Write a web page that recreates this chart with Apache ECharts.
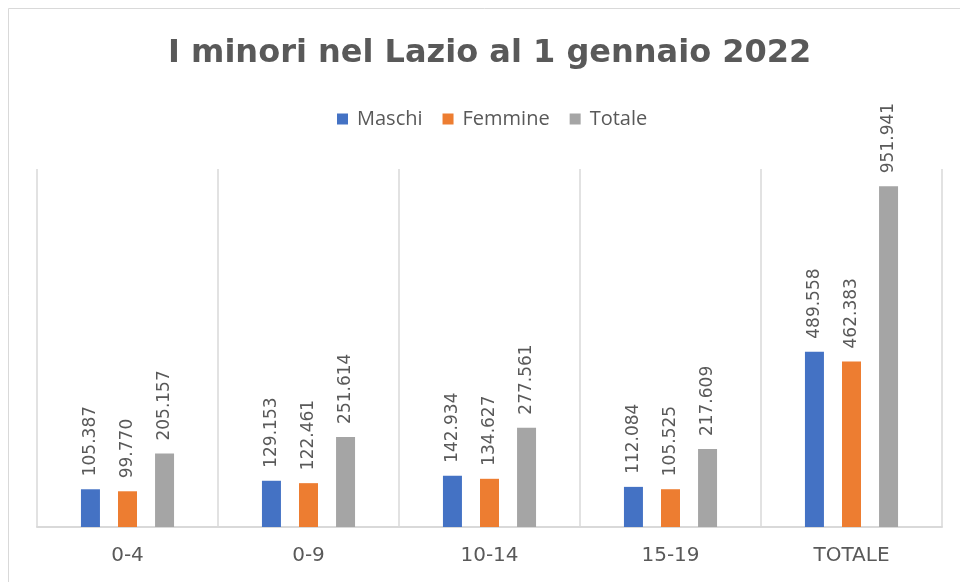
<!DOCTYPE html>
<html>
<head>
<meta charset="utf-8">
<script src="https://cdn.jsdelivr.net/npm/echarts@6/dist/echarts.min.js"></script>
<style>html,body{margin:0;padding:0;background:#fff}#c{width:960px;height:582px}</style>
</head>
<body>
<div id="c"></div>
<script>
const categories = ['0-4', '0-9', '10-14', '15-19', 'TOTALE'];
const maschi = [105387, 129153, 142934, 112084, 489558];
const femmine = [99770, 122461, 134627, 105525, 462383];
const totale = [205157, 251614, 277561, 217609, 951941];
const seriesNames = ['Maschi', 'Femmine', 'Totale'];
const colors = ['#4472C4', '#ED7D31', '#A5A5A5'];

function fmt(v) {
  return String(v).replace(/\B(?=(\d{3})+(?!\d))/g, '.');
}

const chart = echarts.init(document.getElementById('c'));
const labelCfg = {
  show: true,
  position: 'top',
  rotate: 90,
  align: 'left',
  verticalAlign: 'middle',
  distance: 13,
  color: '#595959',
  fontFamily: 'DejaVu Sans',
  fontSize: 17,
  formatter: p => fmt(p.value)
};
const data = [maschi, femmine, totale];
chart.setOption({
  animation: false,
  backgroundColor: '#fff',
  title: {
    text: 'I minori nel Lazio al 1 gennaio 2022',
    left: 163,
    top: 33,
    textStyle: { color: '#595959', fontSize: 32, fontWeight: 'bold', fontFamily: 'DejaVu Sans' }
  },
  legend: {
    top: 104,
    left: 332,
    icon: 'rect',
    itemWidth: 11,
    itemHeight: 11,
    itemGap: 20,
    textStyle: { color: '#595959', fontSize: 20, fontFamily: 'Open Sans', padding: [0, 0, 0, 4] },
    data: seriesNames
  },
  graphic: [{
    type: 'rect',
    shape: { x: 8.5, y: 8.5, width: 960, height: 600 },
    style: { fill: 'none', stroke: '#d9d9d9', lineWidth: 1 },
    silent: true
  }],
  grid: { left: 37, right: 18, top: 169, bottom: 55 },
  xAxis: {
    type: 'category',
    data: categories,
    axisLine: { lineStyle: { color: '#d9d9d9', width: 2 } },
    axisTick: { show: false },
    splitLine: { show: true, lineStyle: { color: '#d9d9d9', width: 1.5 } },
    axisLabel: { color: '#595959', fontSize: 20, fontFamily: 'DejaVu Sans', margin: 19 }
  },
  yAxis: {
    type: 'value',
    min: 0,
    max: 1000000,
    show: false,
    splitLine: { show: false }
  },
  series: seriesNames.map((n, i) => ({
    name: n,
    type: 'bar',
    data: data[i],
    barWidth: 19,
    barGap: '95%',
    itemStyle: { color: colors[i] },
    label: labelCfg
  }))
});
</script>
</body>
</html>
